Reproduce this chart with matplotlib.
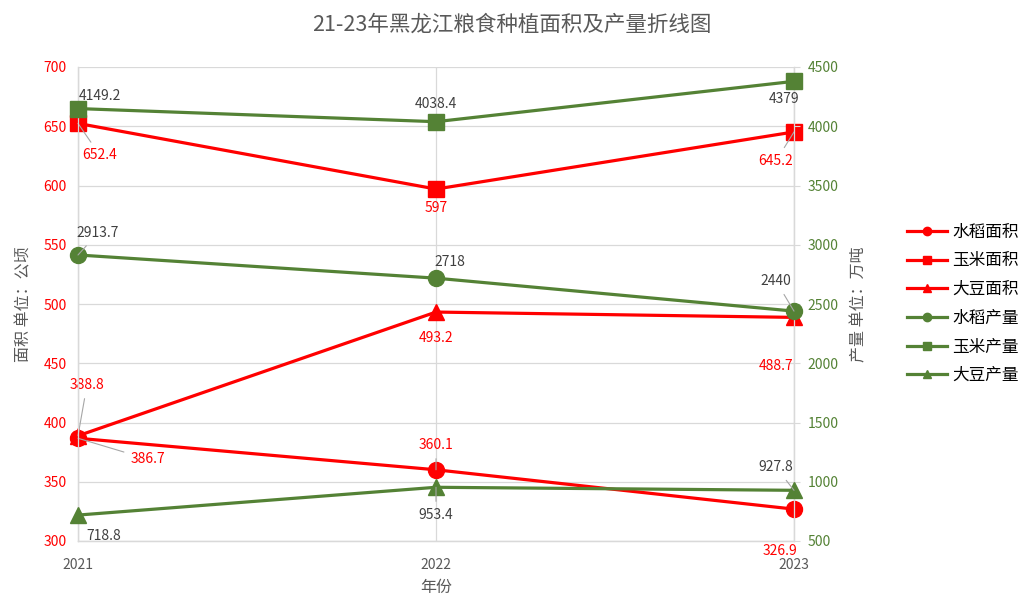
import matplotlib
matplotlib.use("Agg")
import matplotlib.pyplot as plt
from matplotlib.lines import Line2D

plt.rcParams['font.family'] = ['Noto Sans CJK SC', 'DejaVu Sans']

years = ["2021", "2022", "2023"]
rice_area = [386.7, 360.1, 326.9]
corn_area = [652.4, 597, 645.2]
soy_area = [388.8, 493.2, 488.7]
rice_prod = [2913.7, 2718, 2440]
corn_prod = [4149.2, 4038.4, 4379]
soy_prod = [718.8, 953.4, 927.8]
area_ticks = [300, 350, 400, 450, 500, 550, 600, 650, 700]
prod_ticks = [500, 1000, 1500, 2000, 2500, 3000, 3500, 4000, 4500]

RED = "#FF0000"
GREEN = "#548235"
GRAY = "#595959"
GRID = "#D9D9D9"

fig = plt.figure(figsize=(10.23, 6.04), dpi=100)
ax = fig.add_axes([78/1023, 63/604, 716/1023, 474/604])
ax2 = ax.twinx()

x = list(range(len(years)))

lw = 2.3
ms = 11.5
series_left = [(rice_area, 'o', "水稻面积"), (corn_area, 's', "玉米面积"), (soy_area, '^', "大豆面积")]
series_right = [(rice_prod, 'o', "水稻产量"), (corn_prod, 's', "玉米产量"), (soy_prod, '^', "大豆产量")]

for vals, m, name in series_left:
    ax.plot(x, vals, color=RED, lw=lw, marker=m, ms=ms if m != 's' else ms - 0.5,
            clip_on=False, zorder=3)
for vals, m, name in series_right:
    ax2.plot(x, vals, color=GREEN, lw=lw, marker=m, ms=ms if m != 's' else ms - 0.5,
             clip_on=False, zorder=3)

ax.set_xlim(0, 2)
ax.set_ylim(300, 700)
ax2.set_ylim(500, 4500)
ax.set_xticks(x)
ax.set_xticklabels(years)
ax.set_yticks(area_ticks)
ax2.set_yticks(prod_ticks)

ax.grid(True, color=GRID, lw=0.9)
ax.set_axisbelow(True)
for s in ['top']:
    ax.spines[s].set_visible(False)
    ax2.spines[s].set_visible(False)
for a in (ax, ax2):
    for s in ['left', 'right', 'bottom']:
        a.spines[s].set_color(GRID)
        a.spines[s].set_linewidth(0.9)

ax.tick_params(axis='y', colors=RED, length=0, labelsize=10, pad=8)
ax.tick_params(axis='x', colors=GRAY, length=0, labelsize=10, pad=12)
ax2.tick_params(axis='y', colors=GREEN, length=4, color=GRID, labelsize=10, pad=6)
for t in ax.get_yticklabels():
    t.set_color(RED)
for t in ax2.get_yticklabels():
    t.set_color(GREEN)

ax.set_xlabel("年份", color=GRAY, fontsize=11.5, labelpad=5)
ax.set_ylabel("面积 单位：公顷", color=GRAY, fontsize=11.5, labelpad=8)
ax2.set_ylabel("产量 单位：万吨", color=GRAY, fontsize=11.5, labelpad=8)

fig.suptitle("21-23年黑龙江粮食种植面积及产量折线图", color=GRAY, fontsize=15.5, y=0.978)

def label(a, xi, yv, text, dx, dy, color, leader=False):
    a.annotate(text, xy=(xi, yv), xytext=(dx, dy), textcoords='offset pixels',
               ha='center', va='center', fontsize=10, color=color, zorder=5,
               annotation_clip=False,
               arrowprops=dict(arrowstyle='-', color='#A6A6A6', lw=0.8,
                               shrinkA=3, shrinkB=0) if leader else None)

DARK = "#404040"
label(ax2, 0, rice_prod[0], "2913.7", 20, 22, DARK, True)
label(ax2, 1, rice_prod[1], "2718", 14, 16, DARK)
label(ax2, 2, rice_prod[2], "2440", -18, 30, DARK, True)
label(ax2, 0, corn_prod[0], "4149.2", 22, 13, DARK)
label(ax2, 1, corn_prod[1], "4038.4", 0, 18, DARK)
label(ax2, 2, corn_prod[2], "4379", -10, -18, DARK)
label(ax2, 0, soy_prod[0], "718.8", 26, -21, DARK)
label(ax2, 1, soy_prod[1], "953.4", 0, -28, DARK, True)
label(ax2, 2, soy_prod[2], "927.8", -18, 23, DARK, True)

label(ax, 0, corn_area[0], "652.4", 22, -32, RED, True)
label(ax, 1, corn_area[1], "597", 0, -19, RED)
label(ax, 2, corn_area[2], "645.2", -18, -29, RED, True)
label(ax, 0, rice_area[0], "386.7", 70, -21, RED, True)
label(ax, 1, rice_area[1], "360.1", 0, 25, RED, True)
label(ax, 2, rice_area[2], "326.9", -14, -42, RED)
label(ax, 0, soy_area[0], "388.8", 9, 51, RED, True)
label(ax, 1, soy_area[1], "493.2", 0, -26, RED)
label(ax, 2, soy_area[2], "488.7", -18, -49, RED)

handles = []
for vals, m, name in series_left:
    handles.append(Line2D([], [], color=RED, lw=lw, marker=m, ms=6))
for vals, m, name in series_right:
    handles.append(Line2D([], [], color=GREEN, lw=lw, marker=m, ms=6))
names = [n for _, _, n in series_left] + [n for _, _, n in series_right]
fig.legend(handles, names, loc='center left', bbox_to_anchor=(900/1023, 1 - 304/604),
           frameon=False, fontsize=12, labelspacing=0.7, handlelength=2.4,
           handletextpad=0.35, borderaxespad=0)

fig.savefig("out.png", dpi=100)
